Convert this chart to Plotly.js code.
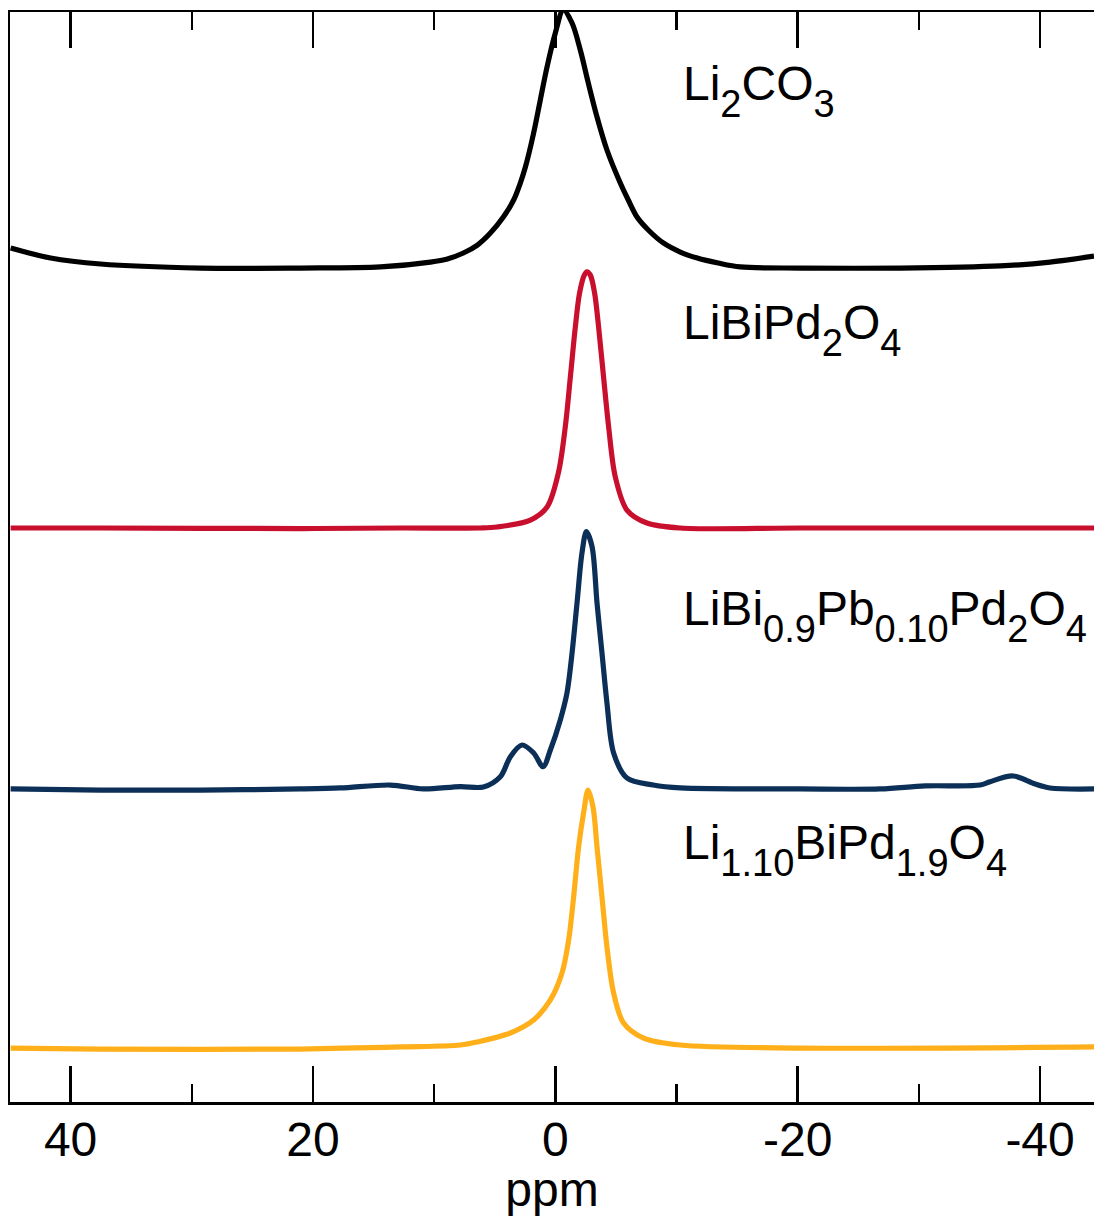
<!DOCTYPE html>
<html>
<head>
<meta charset="utf-8">
<script src="https://cdn.plot.ly/plotly-3.0.1.min.js"></script>
<style>html,body{margin:0;padding:0;background:#fff;overflow:hidden;}</style>
</head>
<body>
<div id="chart" style="width:1094px;height:1216px;"></div>
<script>
// ppm and stacked intensity (arbitrary units)
const li2co3_ppm = [44.95,41.65,37.53,29.28,21.03,14.43,10.31,8.91,7.59,6.43,5.36,4.29,3.44,2.89,2.47,1.79,1.24,0.68,0,-0.66,-1.38,-2.06,-2.72,-3.44,-4.26,-5.36,-6.02,-6.74,-7.67,-8.91,-10.31,-11.71,-13.44,-15.26,-20.21,-28.45,-36.70,-40.82,-44.45];
const li2co3_int = [78.35,77.43,76.88,76.51,76.51,76.61,77.06,77.34,77.89,78.62,79.72,81.19,82.75,84.31,85.78,88.90,91.93,94.98,98.07,100.2,98.99,96.51,93.49,90.37,87.34,84.31,82.75,81.19,80.00,78.81,77.98,77.43,76.97,76.61,76.51,76.51,76.70,77.06,77.61];

const libipd_ppm = [44.95,37.53,21.03,12.78,6.19,4.81,2.06,0.68,-0.25,-0.82,-1.24,-1.65,-2.00,-2.39,-2.61,-2.89,-3.24,-3.57,-3.98,-4.40,-4.95,-5.91,-7.56,-10.31,-20.21,-36.70,-44.45];
const libipd_int = [52.66,52.66,52.61,52.66,52.66,52.75,53.39,54.59,57.71,61.93,66.51,71.10,74.22,75.86,76.17,75.86,74.22,71.10,66.51,61.93,57.34,54.31,53.12,52.66,52.66,52.66,52.66];

const pbdoped_ppm = [44.95,37.53,29.28,21.03,17.73,13.61,10.89,7.84,5.94,4.54,3.71,2.75,1.79,1.01,0.41,-0.41,-0.96,-1.38,-1.79,-2.20,-2.56,-3.03,-3.44,-3.85,-4.26,-4.81,-5.91,-8.08,-10.31,-20.21,-26.80,-30.52,-35.05,-35.88,-37.77,-39.59,-40.82,-44.45];
const pbdoped_int = [28.72,28.62,28.62,28.72,28.81,29.08,28.72,28.94,28.90,29.84,31.68,32.75,32.02,30.76,32.29,35.05,37.52,41.19,45.78,50.37,52.32,50.95,45.78,41.19,36.61,32.02,29.72,29.08,28.81,28.72,28.72,29.00,29.08,29.39,29.91,29.17,28.81,28.72];

const lirich_ppm = [44.95,37.53,21.03,12.78,7.84,6.46,3.71,1.79,0.41,-0.55,-1.10,-1.51,-1.92,-2.33,-2.70,-3.11,-3.44,-3.85,-4.26,-4.81,-5.63,-7.28,-10.31,-20.21,-44.45];
const lirich_int = [4.95,4.86,4.86,5.05,5.23,5.50,6.33,7.52,9.36,11.83,14.86,18.81,23.39,26.51,28.62,27.06,23.39,18.81,14.22,10.00,7.25,5.87,5.23,4.95,5.05];

const S = s => '<sub><span style="font-size:38px;baseline-shift:-7px">' + s + '</span></sub>';
const names = ["Li"+S("2")+"CO"+S("3"), "LiBiPd"+S("2")+"O"+S("4"), "LiBi"+S("0.9")+"Pb"+S("0.10")+"Pd"+S("2")+"O"+S("4"), "Li"+S("1.10")+"BiPd"+S("1.9")+"O"+S("4")];
const colors = ["#000000","#c8102e","#0c2f57","#ffaf1a"];
const labelY = [96.06,74.13,47.89,26.42];
const labelX = -10.35;
const tickVals = [40,20,0,-20,-40];

const xs = [li2co3_ppm, libipd_ppm, pbdoped_ppm, lirich_ppm];
const ys = [li2co3_int, libipd_int, pbdoped_int, lirich_int];

const traces = xs.map((x,i)=>({
  x: x, y: ys[i], type:'scatter', mode:'lines',
  line:{color:colors[i], width:5.2, shape:'spline', smoothing:0.9},
  hoverinfo:'skip', showlegend:false
}));

const annotations = names.map((n,i)=>({
  text:n, x:labelX, y:labelY[i], xref:'x', yref:'y',
  xanchor:'left', yanchor:'top', showarrow:false,
  font:{family:'Liberation Sans, Arial, sans-serif', size:48, color:'#000'}
}));

const layout = {
  width:1094, height:1216,
  margin:{l:10, r:0, t:12, b:114},
  paper_bgcolor:'#fff', plot_bgcolor:'#fff',
  font:{family:'Liberation Sans, Arial, sans-serif', size:48, color:'#000'},
  xaxis:{
    range:[45.0,-44.45], tickvals:tickVals, ticktext:tickVals.map(String),
    ticks:'inside', ticklen:36, tickwidth:2.5, tickcolor:'#000',
    showline:true, linewidth:2.5, linecolor:'#000', mirror:'ticks',
    showgrid:false, zeroline:false,
    minor:{tickvals:[30,10,-10,-30], ticks:'inside', ticklen:18, tickwidth:2.5, tickcolor:'#000', showgrid:false},
    tickfont:{size:48},
    ticklabelstandoff:-6,
    title:{text:'ppm', font:{size:48}, standoff:2}
  },
  yaxis:{
    range:[0,100], showline:true, linewidth:2.5, linecolor:'#000',
    showticklabels:false, ticks:'', showgrid:false, zeroline:false
  },
  annotations: annotations
};

Plotly.newPlot('chart', traces, layout, {displayModeBar:false, staticPlot:true});
</script>
</body>
</html>
